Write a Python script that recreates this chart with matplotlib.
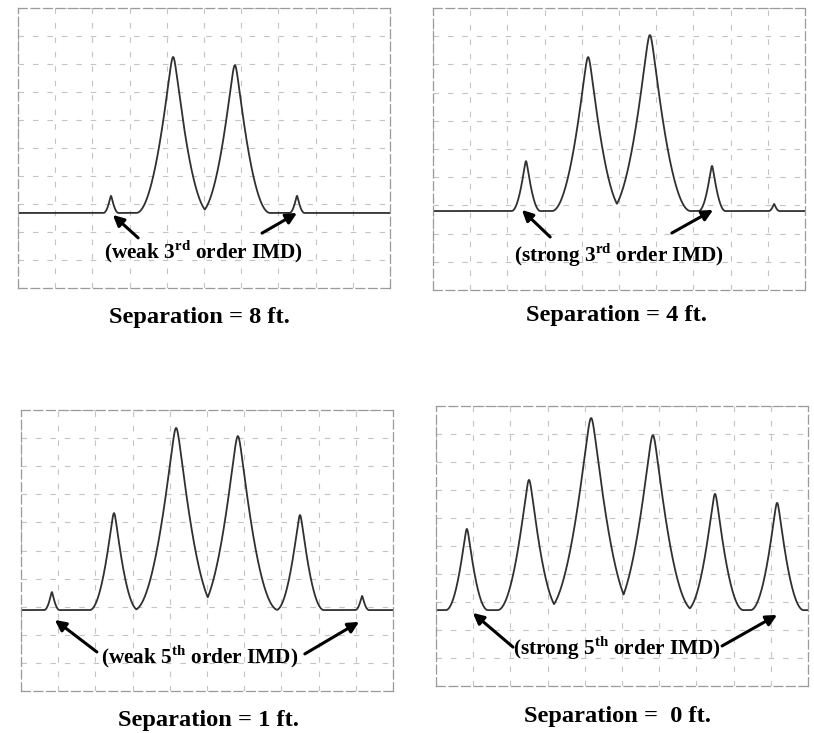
import numpy as np
import matplotlib
matplotlib.use("Agg")
import matplotlib.pyplot as plt

plt.rcParams["font.family"] = "Liberation Serif"
plt.rcParams["mathtext.fontset"] = "custom"
plt.rcParams["mathtext.rm"] = "Liberation Serif:bold"
plt.rcParams["mathtext.bf"] = "Liberation Serif:bold"

# tone positions on the screen (divisions)
tone_x = [0.83, 2.5, 4.17, 5.83, 7.5, 9.17]

# peak levels (divisions, 0 = no tone)
level_8ft = [0, 3.29, 8.25, 7.96, 3.29, 0]
level_4ft = [0, 4.57, 8.26, 9.04, 4.40, 3.05]
level_1ft = [3.52, 6.33, 9.36, 9.07, 6.26, 3.38]
level_0ft = [5.61, 7.36, 9.57, 8.96, 6.86, 6.54]
noise_floor = [2.68, 2.80, 2.88, 2.71]

captions = ["Separation = 8 ft.", "Separation = 4 ft.",
            "Separation = 1 ft.", "Separation =  0 ft."]
labels = [r"(weak 3$^{\mathrm{rd}}$ order IMD)",
          r"(strong 3$^{\mathrm{rd}}$ order IMD)",
          r"(weak 5$^{\mathrm{th}}$ order IMD)",
          r"(strong 5$^{\mathrm{th}}$ order IMD)"]

# label / arrow placement (screen divisions)
label_xy = [(5.0, 1.29), (5.0, 1.24), (4.81, 1.21), (4.87, 1.36)]
arrow_from = [[(3.23, 1.79), (6.56, 1.96)],
              [(3.15, 1.88), (6.42, 2.02)],
              [(2.04, 1.39), (7.63, 1.32)],
              [(2.07, 1.39), (7.69, 1.43)]]
arrow_to = [[(2.55, 2.61), (7.50, 2.68)],
            [(2.39, 2.84), (7.53, 2.84)],
            [(0.91, 2.53), (9.09, 2.46)],
            [(0.99, 2.61), (9.17, 2.54)]]
# caption position in axes fraction
caption_xy = [(0.489, -0.105), (0.492, -0.092), (0.505, -0.105), (0.487, -0.11)]

# panel frames in pixels: left, top, right, bottom
frames = [(18, 8, 390, 288), (433, 8, 805, 290),
          (21, 410, 393, 691), (436, 406, 808, 686)]

W, H = 814, 733
fig = plt.figure(figsize=(W / 100, H / 100), dpi=100)

x = np.linspace(0, 10, 3000)
base_w, spread, rounding = 0.1, 0.15, 0.06


def peak_shape(u):
    u = np.sqrt(u ** 2 + rounding ** 2) - rounding
    return np.clip(1 - u, 0, None) ** 2


for i, levels in enumerate([level_8ft, level_4ft, level_1ft, level_0ft]):
    l, t, r, b = frames[i]
    ax = fig.add_axes([l / W, (H - b) / H, (r - l) / W, (b - t) / H])
    ax.set_xlim(0, 10)
    ax.set_ylim(0, 10)
    ax.set_xticks(range(11))
    ax.set_yticks(range(11))
    ax.tick_params(length=0, labelbottom=False, labelleft=False)
    ax.grid(True, color="#c4c4c4", lw=0.8, ls=(0, (5, 8)))
    for s in ax.spines.values():
        s.set_color("#9a9a9a")
        s.set_linestyle((0, (7, 3)))
        s.set_linewidth(0.9)

    fl = noise_floor[i]
    trace = np.full_like(x, fl)
    for px, lv in zip(tone_x, levels):
        if lv <= 0:
            continue
        amp = lv - fl
        w = base_w + spread * amp
        trace = np.maximum(trace, fl + amp * peak_shape((x - px) / w))
    ax.plot(x, trace, color="#303030", lw=1.3)

    ax.text(*label_xy[i], labels[i], ha="center", va="center",
            fontsize=15.3, fontweight="bold")
    for p0, p1 in zip(arrow_from[i], arrow_to[i]):
        ax.annotate("", xy=p1, xytext=p0,
                    arrowprops=dict(arrowstyle="-|>", color="black", lw=2.2,
                                    mutation_scale=16, shrinkA=0, shrinkB=0))
    ax.text(*caption_xy[i], captions[i], transform=ax.transAxes,
            ha="center", va="center", fontsize=17.6, fontweight="bold")

fig.savefig("out.png", dpi=100)
